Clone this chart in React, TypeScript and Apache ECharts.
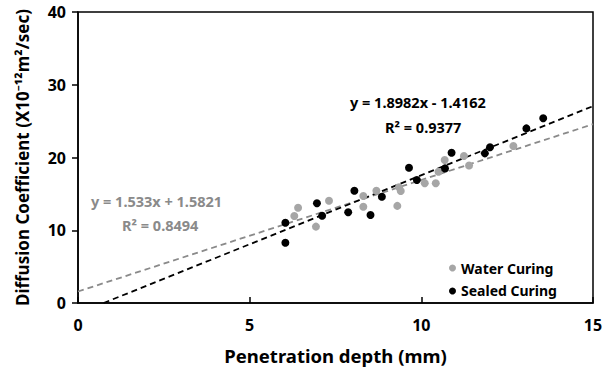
import React, { useEffect, useRef } from "react";
import * as echarts from "echarts";

const waterX = [6.30, 6.41, 6.93, 7.31, 8.31, 8.31, 8.69, 9.30, 9.35, 9.40, 10.10, 10.42, 10.50, 10.68, 11.24, 11.39, 12.68];
const waterY = [11.96, 13.1, 10.5, 14.06, 14.7, 13.24, 15.44, 13.35, 15.9, 15.4, 16.45, 16.45, 18.05, 19.66, 20.2, 18.9, 21.58];
const sealedX = [6.04, 6.04, 6.96, 7.11, 7.87, 8.05, 8.52, 8.85, 9.64, 9.87, 10.69, 10.88, 11.85, 12.0, 13.06, 13.55];
const sealedY = [11.04, 8.29, 13.7, 12.0, 12.47, 15.44, 12.1, 14.6, 18.6, 16.9, 18.5, 20.66, 20.57, 21.4, 24.0, 25.4];

const sealedFit = { slope: 1.8982, intercept: -1.4162, r2: "0.9377", eq: "y = 1.8982x - 1.4162" };
const waterFit = { slope: 1.533, intercept: 1.5821, r2: "0.8494", eq: "y = 1.533x + 1.5821" };

const xTicks = [0, 5, 10, 15];
const yTicks = [0, 10, 20, 30, 40];

const FONT = "'Noto Sans', 'Noto Sans CJK KR', sans-serif";
const GRAY_PT = "#a6a6a6";
const GRAY_LINE = "#8a8a8a";

function fitLine(f: { slope: number; intercept: number }, xStart: number, xEnd: number) {
  const zeroX = -f.intercept / f.slope;
  const x0 = zeroX > xStart ? zeroX : xStart;
  return [
    [x0, f.slope * x0 + f.intercept],
    [xEnd, f.slope * xEnd + f.intercept],
  ];
}

export default function App() {
  const ref = useRef<HTMLDivElement>(null);
  useEffect(() => {
    if (!ref.current) return;
    const chart = echarts.init(ref.current, null, { renderer: "svg" });
    const zip = (xs: number[], ys: number[]) => xs.map((x, i) => [x, ys[i]]);
    chart.setOption({
      animation: false,
      textStyle: { fontFamily: FONT },
      grid: { left: 78, right: 20, top: 12, bottom: 68, show: true, borderColor: "#000", borderWidth: 1.5, backgroundColor: "transparent" },
      xAxis: {
        type: "value",
        min: xTicks[0],
        max: xTicks[xTicks.length - 1],
        interval: 5,
        name: "Penetration depth (mm)",
        nameLocation: "middle",
        nameGap: 43,
        nameTextStyle: { fontSize: 18.5, fontWeight: "bold", color: "#000", fontFamily: FONT },
        axisLine: { lineStyle: { color: "#000", width: 1.5 } },
        axisTick: { inside: true, length: 6, lineStyle: { color: "#000", width: 1.5 } },
        axisLabel: { fontSize: 16, fontWeight: "bold", color: "#000", margin: 14, fontFamily: FONT },
        splitLine: { show: false },
      },
      yAxis: {
        type: "value",
        min: yTicks[0],
        max: yTicks[yTicks.length - 1],
        interval: 10,
        name: "Diffusion Coefficient (X10⁻¹²m²/sec)",
        nameLocation: "middle",
        nameGap: 47,
        nameTextStyle: { fontSize: 17, fontWeight: "bold", color: "#000", fontFamily: FONT },
        axisLine: { lineStyle: { color: "#000", width: 1.5 } },
        axisTick: { inside: false, length: 6, lineStyle: { color: "#000", width: 1.5 } },
        axisLabel: { fontSize: 16, fontWeight: "bold", color: "#000", margin: 12, fontFamily: FONT },
        splitLine: { show: false },
      },
      legend: {
        orient: "vertical",
        left: 444,
        top: 256,
        itemWidth: 7,
        itemHeight: 7,
        itemGap: 9,
        textStyle: { fontSize: 14, fontWeight: "bold", color: "#000", fontFamily: FONT },
        data: [
          { name: "Water Curing", icon: "circle" },
          { name: "Sealed Curing", icon: "circle" },
        ],
      },
      series: [
        {
          name: "Water Fit",
          type: "line",
          data: fitLine(waterFit, 0, 15),
          symbol: "none",
          lineStyle: { color: GRAY_LINE, type: [6, 4], width: 1.8 },
          z: 1,
        },
        {
          name: "Sealed Fit",
          type: "line",
          data: fitLine(sealedFit, 0, 15),
          symbol: "none",
          lineStyle: { color: "#000", type: [6, 4], width: 1.8 },
          z: 1,
        },
        {
          name: "Water Curing",
          type: "scatter",
          data: zip(waterX, waterY),
          symbolSize: 8,
          itemStyle: { color: GRAY_PT, opacity: 1 },
          z: 2,
        },
        {
          name: "Sealed Curing",
          type: "scatter",
          data: zip(sealedX, sealedY),
          symbolSize: 8,
          itemStyle: { color: "#000", opacity: 1 },
          z: 3,
        },
      ],
      graphic: [
        { type: "text", left: 350, top: 95, style: { text: sealedFit.eq, fontSize: 14.5, fontWeight: "bold", fill: "#000", fontFamily: FONT } },
        { type: "text", left: 385, top: 120, style: { text: "R² = " + sealedFit.r2, fontSize: 14.5, fontWeight: "bold", fill: "#000", fontFamily: FONT } },
        { type: "text", left: 91, top: 194, style: { text: waterFit.eq, fontSize: 14.5, fontWeight: "bold", fill: GRAY_LINE, fontFamily: FONT } },
        { type: "text", left: 122, top: 218, style: { text: "R² = " + waterFit.r2, fontSize: 14.5, fontWeight: "bold", fill: GRAY_LINE, fontFamily: FONT } },
      ],
    });
    return () => chart.dispose();
  }, []);
  return <div ref={ref} style={{ position: "absolute", left: 0, top: 0, width: 613, height: 371 }} />;
}
